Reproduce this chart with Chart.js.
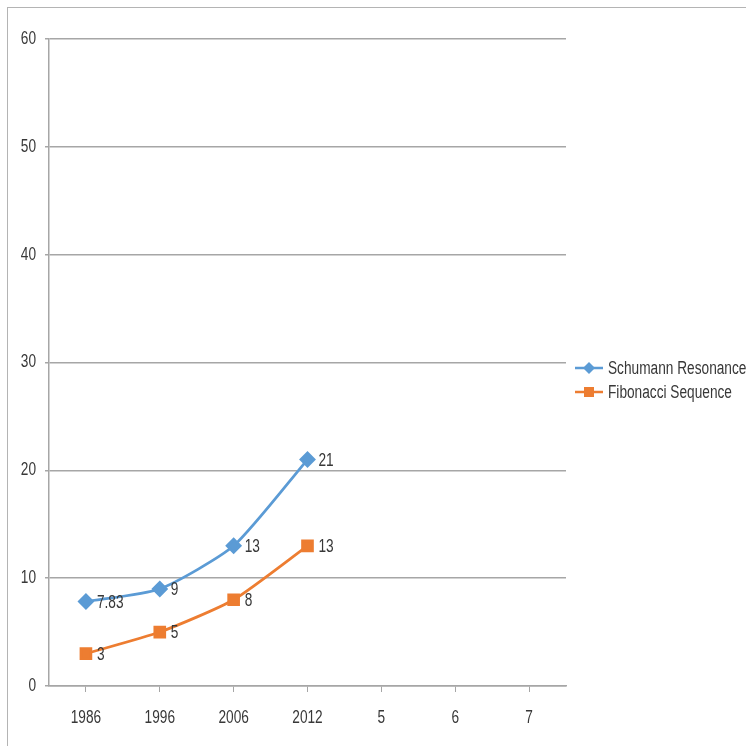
<!DOCTYPE html>
<html>
<head>
<meta charset="utf-8">
<script src="https://cdn.jsdelivr.net/npm/chart.js@4"></script>
<style>
  html, body { margin: 0; padding: 0; background: #fff; overflow: hidden; }
  #wrap { position: relative; width: 746px; height: 746px; }
  #frame { position: absolute; left: 7px; top: 7px; width: 800px; height: 800px; border: 1.5px solid #b4b4b4; }
  canvas { position: absolute; left: 0; top: 0; }
</style>
</head>
<body>
<div id="wrap">
  <div id="frame"></div>
  <canvas id="chart" width="746" height="746"></canvas>
</div>
<script>
// categories and series
const categories = ['1986', '1996', '2006', '2012', '5', '6', '7'];
const schumann = [7.83, 9, 13, 21];
const fibonacci = [3, 5, 8, 13];
const seriesNames = ['Schumann Resonance', 'Fibonacci Sequence'];

const FONT = '18px "Liberation Sans", Arial, sans-serif';
const NARROW = 0.76; // squeeze text like Arial Narrow
const TEXT = '#383838';
const GRID = '#a6a6a6';

function narrowText(ctx, text, x, y, align) {
  ctx.save();
  ctx.translate(x, y);
  ctx.scale(NARROW, 1);
  ctx.font = FONT;
  ctx.fillStyle = TEXT;
  ctx.textAlign = align;
  ctx.textBaseline = 'middle';
  ctx.fillText(text, 0, 0);
  ctx.restore();
}

// tick labels drawn narrow at the positions the scales give
const narrowTicks = {
  id: 'narrowTicks',
  afterDraw(chart) {
    const ctx = chart.ctx;
    const xs = chart.scales.x, ys = chart.scales.y;
    xs.ticks.forEach((t, i) => {
      narrowText(ctx, xs.getLabelForValue(t.value), xs.getPixelForTick(i), xs.top + 32, 'center');
    });
    ys.ticks.forEach((t, i) => {
      narrowText(ctx, String(t.value), ys.right - 13, ys.getPixelForTick(i), 'right');
    });
  }
};

// value labels to the right of each point
const valueLabels = {
  id: 'valueLabels',
  afterDatasetsDraw(chart) {
    chart.data.datasets.forEach((ds, i) => {
      chart.getDatasetMeta(i).data.forEach((pt, j) => {
        narrowText(chart.ctx, String(ds.data[j]), pt.x + 11, pt.y + 1, 'left');
      });
    });
  }
};

// legend on the right, line with marker like the original
const sideLegend = {
  id: 'sideLegend',
  afterDraw(chart) {
    const ctx = chart.ctx;
    const x0 = 575, rows = [368, 392];
    chart.data.datasets.forEach((ds, i) => {
      const y = rows[i];
      ctx.save();
      ctx.strokeStyle = ds.borderColor;
      ctx.lineWidth = 2.5;
      ctx.beginPath();
      ctx.moveTo(x0, y);
      ctx.lineTo(x0 + 28, y);
      ctx.stroke();
      ctx.fillStyle = ds.borderColor;
      ctx.beginPath();
      if (ds.pointStyle === 'rectRot') {
        ctx.moveTo(x0 + 14, y - 6);
        ctx.lineTo(x0 + 20, y);
        ctx.lineTo(x0 + 14, y + 6);
        ctx.lineTo(x0 + 8, y);
        ctx.closePath();
      } else {
        ctx.rect(x0 + 9, y - 5, 10, 10);
      }
      ctx.fill();
      ctx.restore();
      narrowText(ctx, ds.label, x0 + 33, y + 1, 'left');
    });
  }
};

new Chart(document.getElementById('chart'), {
  type: 'line',
  data: {
    labels: categories,
    datasets: [
      {
        label: seriesNames[0],
        data: schumann,
        borderColor: '#5b9bd5',
        backgroundColor: '#5b9bd5',
        borderWidth: 2.75,
        pointStyle: 'rectRot',
        pointRadius: 6.5,
        pointHoverRadius: 6.5,
        tension: 0.2
      },
      {
        label: seriesNames[1],
        data: fibonacci,
        borderColor: '#ed7d31',
        backgroundColor: '#ed7d31',
        borderWidth: 2.75,
        pointStyle: 'rect',
        pointRadius: 7,
        pointHoverRadius: 7,
        tension: 0.2
      }
    ]
  },
  options: {
    responsive: false,
    animation: false,
    layout: { padding: { left: 0, top: 39, right: 180, bottom: 0 } },
    plugins: { legend: { display: false }, tooltip: { enabled: false } },
    scales: {
      x: {
        offset: true,
        afterFit(scale) { scale.height = 60; },
        grid: { drawOnChartArea: false, color: GRID, tickLength: 6, tickColor: GRID },
        border: { color: GRID, width: 1.5 },
        ticks: { display: false }
      },
      y: {
        min: 0,
        max: 60,
        afterFit(scale) { scale.width = 49; },
        grid: { color: GRID, lineWidth: 1.5, tickLength: 4, tickColor: GRID },
        border: { color: GRID, width: 1.5 },
        ticks: { display: false, stepSize: 10 }
      }
    }
  },
  plugins: [valueLabels, sideLegend, narrowTicks]
});
</script>
</body>
</html>
